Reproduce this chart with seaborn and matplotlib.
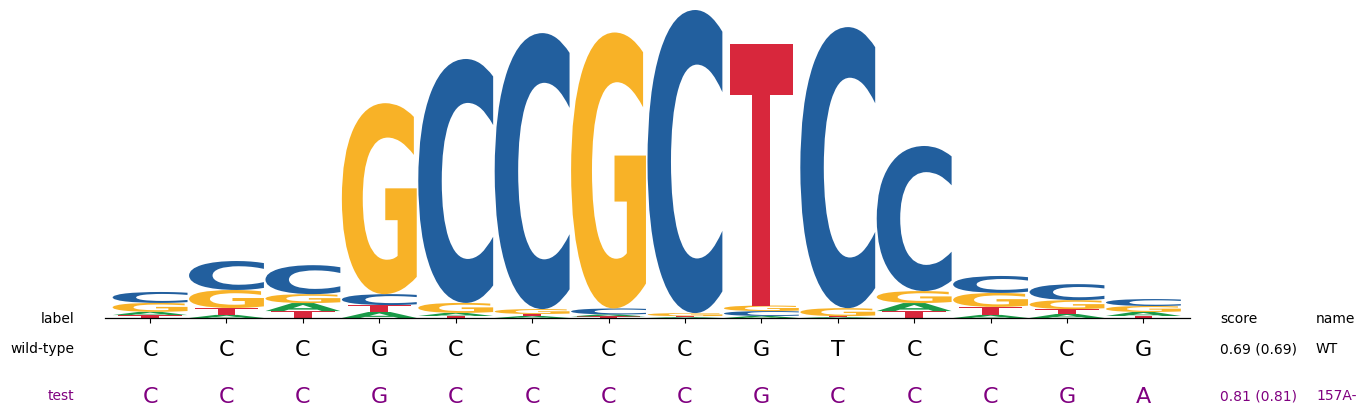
import matplotlib
matplotlib.use("Agg")
import matplotlib.pyplot as plt
import seaborn as sns
import pandas as pd
from matplotlib.textpath import TextPath
from matplotlib.patches import PathPatch
from matplotlib.font_manager import FontProperties
from matplotlib.transforms import Affine2D, blended_transform_factory

# information content (bits) per base at each position
positions = list(range(14))
bits_A = [0.021, 0.020, 0.052, 0.039, 0.020, 0.013, 0.013, 0.006, 0.013, 0.006, 0.052, 0.020, 0.026, 0.026]
bits_C = [0.071, 0.188, 0.188, 0.071, 1.584, 1.792, 0.039, 1.968, 0.032, 1.825, 0.942, 0.110, 0.104, 0.045]
bits_G = [0.058, 0.117, 0.058, 1.240, 0.065, 0.032, 1.792, 0.020, 0.036, 0.052, 0.078, 0.091, 0.058, 0.039]
bits_T = [0.019, 0.045, 0.045, 0.045, 0.013, 0.013, 0.010, 0.006, 1.701, 0.006, 0.045, 0.052, 0.032, 0.013]

wt_seq = list("CCCGCCCCGTCCCG")
test_seq = list("CCCGCCCCGCCCGA")
row_labels = ["label", "wild-type", "test"]
score_col = ["score", "0.69 (0.69)", "0.81 (0.81)"]
name_col = ["name", "WT", "157A-"]

COLORS = {'A': '#1a9a48', 'C': '#225f9e', 'G': '#f8b227', 'T': '#d8273c'}
PURPLE = '#800080'

W, H = 1366, 415

sns.set_style("white")
plt.rcParams['font.family'] = ['DejaVu Sans']

glyph_font = FontProperties(family='DejaVu Sans', weight='bold')


def draw_glyph(ax, c, x, y0, h, w, color):
    path = TextPath((0, 0), c, size=1, prop=glyph_font)
    ext = path.get_extents()
    tr = (Affine2D().translate(-ext.x0, -ext.y0)
          .scale(w / ext.width, h / ext.height)
          .translate(x - w / 2, y0))
    ax.add_patch(PathPatch(tr.transform_path(path), facecolor=color,
                           edgecolor='none', lw=0))


df = pd.DataFrame({'A': bits_A, 'C': bits_C, 'G': bits_G, 'T': bits_T}, index=positions)

fig = plt.figure(figsize=(W / 100, H / 100), dpi=100)
ax = fig.add_axes([105 / W, (H - 318) / H, 1085 / W, 308 / H])

for pos, row in df.iterrows():
    y = 0.0
    for base, h in row.sort_values().items():
        w = 0.83 if base == 'T' else 0.98
        draw_glyph(ax, base, pos, y, h, w, COLORS[base])
        y += h

ax.set_xlim(-0.59, 13.61)
ax.set_ylim(0, 2.0)
ax.set_xticks(positions)
ax.set_xticklabels([])
ax.set_yticks([])
ax.tick_params(axis='x', direction='out', length=3.5, width=0.8, color='black', bottom=True)
sns.despine(ax=ax, left=True, top=True, right=True)
ax.spines['bottom'].set_color('black')
ax.spines['bottom'].set_linewidth(0.9)

# text rows under the logo
trans = blended_transform_factory(ax.transData, fig.transFigure)
label_y = [1 - 317 / H, 1 - 347.5 / H, 1 - 394.5 / H]
row_colors = ['black', 'black', PURPLE]

for lab, yy, col in zip(row_labels, label_y, row_colors):
    fig.text(74 / W, yy, lab, ha='right', va='center_baseline', fontsize=10, color=col)

for seq, yy, col in zip([wt_seq, test_seq], label_y[1:], row_colors[1:]):
    for pos, ch in zip(positions, seq):
        fig.text(pos, yy, ch, transform=trans, ha='center', va='center_baseline',
                 fontsize=16, color=col)

for txt, yy, col in zip(score_col, label_y, row_colors):
    fig.text(1220 / W, yy, txt, ha='left', va='center_baseline', fontsize=10, color=col)
for txt, yy, col in zip(name_col, label_y, row_colors):
    fig.text(1316 / W, yy, txt, ha='left', va='center_baseline', fontsize=10, color=col)

fig.savefig("out.png", dpi=100)
